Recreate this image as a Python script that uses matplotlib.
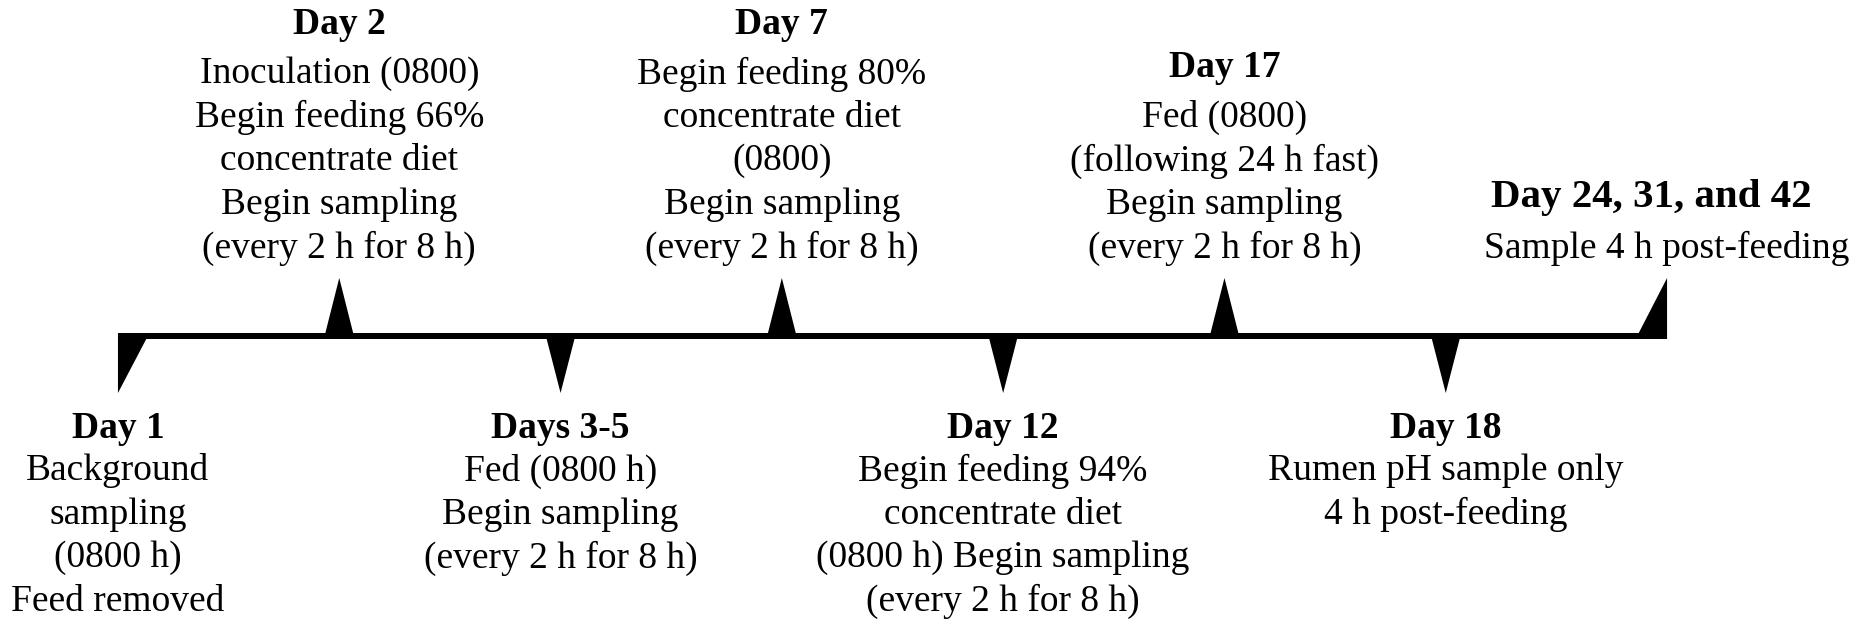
import matplotlib
matplotlib.use("Agg")
import matplotlib.pyplot as plt
from matplotlib.patches import Polygon, Rectangle

# timeline events, left to right (index = position on the line)
titles = ["Day 1", "Day 2", "Days 3-5", "Day 7", "Day 12", "Day 17", "Day 18",
          "Day 24, 31, and 42"]
bodies = [
    ["Background", "sampling", "(0800 h)", "Feed removed"],
    ["Inoculation (0800)", "Begin feeding 66%", "concentrate diet",
     "Begin sampling", "(every 2 h for 8 h)"],
    ["Fed (0800 h)", "Begin sampling", "(every 2 h for 8 h)"],
    ["Begin feeding 80%", "concentrate diet", "(0800)", "Begin sampling",
     "(every 2 h for 8 h)"],
    ["Begin feeding 94%", "concentrate diet", "(0800 h) Begin sampling",
     "(every 2 h for 8 h)"],
    ["Fed (0800)", "(following 24 h fast)", "Begin sampling",
     "(every 2 h for 8 h)"],
    ["Rumen pH sample only", "4 h post-feeding"],
    ["Sample 4 h post-feeding"],
]
sides = ["below", "above", "below", "above", "below", "above", "below", "above"]

plt.rcParams["font.family"] = ["Liberation Serif", "DejaVu Serif"]

fig = plt.figure(figsize=(18.7, 6.25), dpi=100)
ax = fig.add_axes([0, 0, 1, 1])
# x in event index units, y in pixels from top
ax.set_xlim(-0.533, 7.917)
ax.set_ylim(625, 0)
ax.axis("off")

line_top, line_bot = 333, 339
tri_w = 0.064   # half width of the triangles (index units)
tri_h = 55
fs = 27
lh = 43.5       # line height in px

n = len(titles)
# main line
ax.add_patch(Rectangle((0, line_top), n - 1, line_bot - line_top, color="black", lw=0))

for i, (t, body, side) in enumerate(zip(titles, bodies, sides)):
    if i == 0:
        pts = [(i, line_top), (i, line_bot + tri_h - 1), (i + 2 * tri_w, line_bot)]
    elif i == n - 1:
        pts = [(i, line_bot), (i, line_top - tri_h), (i - 2 * tri_w, line_top)]
    elif side == "above":
        pts = [(i - tri_w, line_top + 1), (i, line_top - tri_h), (i + tri_w, line_top + 1)]
    else:
        pts = [(i - tri_w, line_bot - 1), (i, line_bot + tri_h - 1), (i + tri_w, line_bot - 1)]
    ax.add_patch(Polygon(pts, closed=True, color="black", lw=0))

    if side == "above":
        ys = [248 - (len(body) - 1 - k) * lh for k in range(len(body))]
        ty = ys[0] - 50
    else:
        ty = 428
        ys = [471 + k * lh for k in range(len(body))]
    tfs = fs + 2.5 if i == n - 1 else fs
    tx = i - 0.07 if i == n - 1 else i
    ax.text(tx, ty, t, ha="center", va="center", fontsize=tfs, fontweight="bold")
    for y, s in zip(ys, body):
        ax.text(i, y, s, ha="center", va="center", fontsize=fs)

fig.savefig("out.png", dpi=100, facecolor="white")
